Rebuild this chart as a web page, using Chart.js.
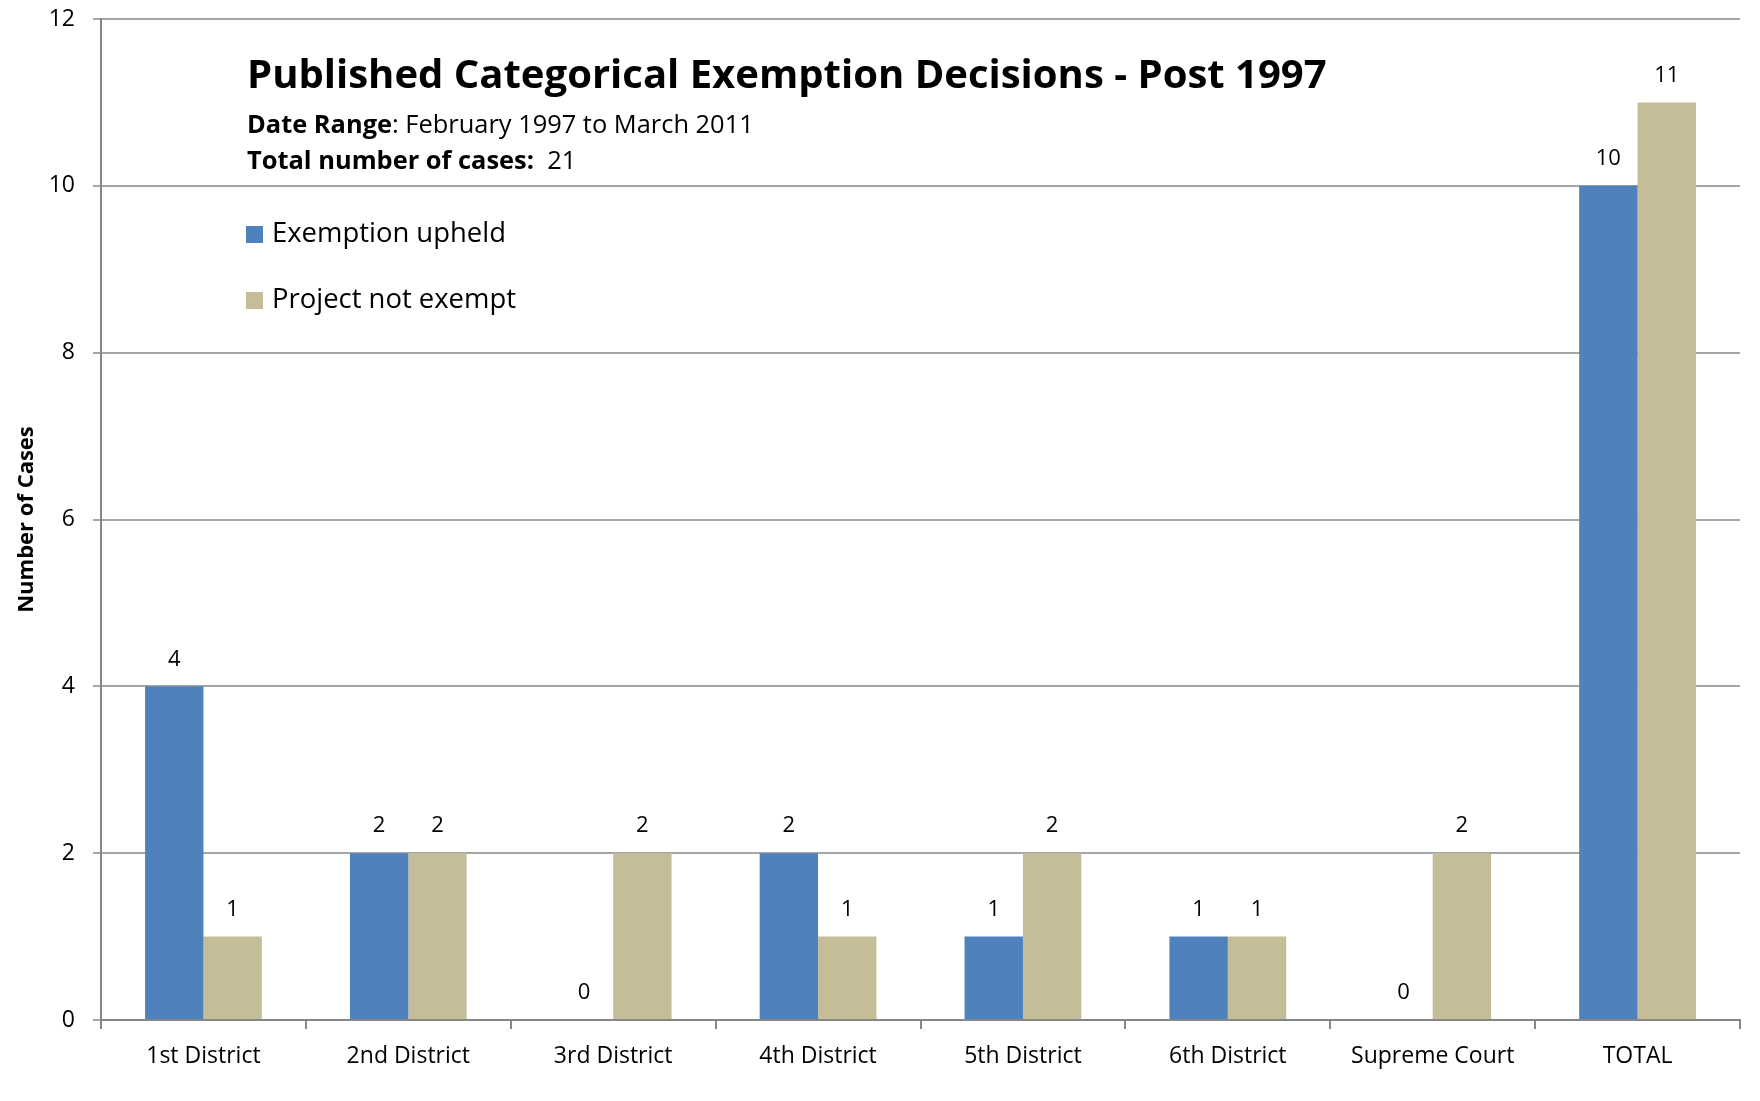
<!DOCTYPE html>
<html>
<head>
<meta charset="utf-8">
<script src="https://cdn.jsdelivr.net/npm/chart.js@4"></script>
<style>
html,body{margin:0;padding:0;background:#fff;}
#wrap{width:1760px;height:1101px;position:relative;}
</style>
</head>
<body>
<div id="wrap"><canvas id="c" width="1760" height="1101"></canvas></div>
<script>
const categories = ['1st District','2nd District','3rd District','4th District','5th District','6th District','Supreme Court','TOTAL'];
const exemptionUpheld = [4,2,0,2,1,1,0,10];
const projectNotExempt = [1,2,2,1,2,1,2,11];
const seriesNames = ['Exemption upheld','Project not exempt'];
const yMin = 0, yMax = 12, yStep = 2;
const titleText = 'Published Categorical Exemption Decisions - Post 1997';
const dateRangeLabel = 'Date Range';
const dateRangeValue = ': February 1997 to March 2011';
const totalLabel = 'Total number of cases:';
const totalValue = '  21';
const yAxisTitle = 'Number of Cases';

const FAMILY = '"Open Sans", "Liberation Sans", sans-serif';
const BLUE = '#4F81BD', TAN = '#C4BD97';

function fitSize(ctx, parts, target, base) {
  let w = 0;
  parts.forEach(p => { ctx.font = `${p.bold ? 'bold ' : ''}${base}px ${FAMILY}`; w += ctx.measureText(p.t).width; });
  return base * target / w;
}
function drawParts(ctx, parts, x, y, size) {
  ctx.textBaseline = 'middle'; ctx.textAlign = 'left'; ctx.fillStyle = '#000';
  parts.forEach(p => {
    ctx.font = `${p.bold ? 'bold ' : ''}${size}px ${FAMILY}`;
    ctx.fillText(p.t, x, y);
    x += ctx.measureText(p.t).width;
  });
}

const valueLabels = {
  id: 'valueLabels',
  afterDatasetsDraw(chart) {
    const ctx = chart.ctx;
    ctx.save();
    ctx.font = `22px ${FAMILY}`;
    ctx.fillStyle = '#000';
    ctx.textAlign = 'center';
    ctx.textBaseline = 'middle';
    chart.data.datasets.forEach((ds, i) => {
      chart.getDatasetMeta(i).data.forEach((el, j) => {
        ctx.fillText(String(ds.data[j]), el.x, el.y - 27);
      });
    });
    ctx.restore();
  }
};

const overlay = {
  id: 'overlay',
  afterDraw(chart) {
    const ctx = chart.ctx;
    ctx.save();
    const tParts = [{t: titleText, bold: true}];
    const ts = fitSize(ctx, tParts, 1080, 40);
    drawParts(ctx, tParts, 247, 77, ts);
    const dParts = [{t: dateRangeLabel, bold: true}, {t: dateRangeValue, bold: false}];
    const ds = fitSize(ctx, dParts, 507, 22);
    drawParts(ctx, dParts, 247, 126, ds);
    drawParts(ctx, [{t: totalLabel, bold: true}, {t: totalValue, bold: false}], 247, 162, ds);
    const ls = fitSize(ctx, [{t: seriesNames[0]}], 234, 24);
    const ys = [234, 300];
    chart.data.datasets.forEach((d, i) => {
      ctx.fillStyle = d.backgroundColor;
      ctx.fillRect(246, ys[i] - 8, 17, 17);
      drawParts(ctx, [{t: d.label}], 272, ys[i], ls);
    });
    ctx.restore();
  }
};

new Chart(document.getElementById('c'), {
  type: 'bar',
  data: {
    labels: categories,
    datasets: [
      {label: seriesNames[0], data: exemptionUpheld, backgroundColor: BLUE},
      {label: seriesNames[1], data: projectNotExempt, backgroundColor: TAN}
    ]
  },
  options: {
    responsive: false,
    animation: false,
    layout: {padding: {top: 19, right: 20, left: 0, bottom: 0}},
    plugins: {legend: {display: false}, tooltip: {enabled: false}, title: {display: false}},
    datasets: {bar: {categoryPercentage: 0.57, barPercentage: 1.0}},
    scales: {
      x: {
        grid: {display: true, drawOnChartArea: false, drawTicks: true, tickLength: 9, color: '#868686', lineWidth: 2, offset: true},
        border: {display: true, color: '#868686', width: 2},
        ticks: {color: '#000', font: {family: FAMILY, size: 23}, padding: 14},
        afterFit(s) { s.height = 81; s.paddingLeft = 0; s.paddingRight = 0; }
      },
      y: {
        min: yMin, max: yMax,
        grid: {color: '#A6A6A6', lineWidth: 2, tickLength: 8},
        border: {display: true, color: '#868686', width: 2},
        ticks: {stepSize: yStep, color: '#000', font: {family: FAMILY, size: 23}, padding: 18},
        title: {display: true, text: yAxisTitle, color: '#000', font: {family: FAMILY, size: 22, weight: 'bold'}, padding: {top: 14, bottom: 0}},
        afterFit(s) { s.width = 101; s.paddingTop = 0; s.paddingBottom = 0; }
      }
    }
  },
  plugins: [valueLabels, overlay]
});
</script>
</body>
</html>
